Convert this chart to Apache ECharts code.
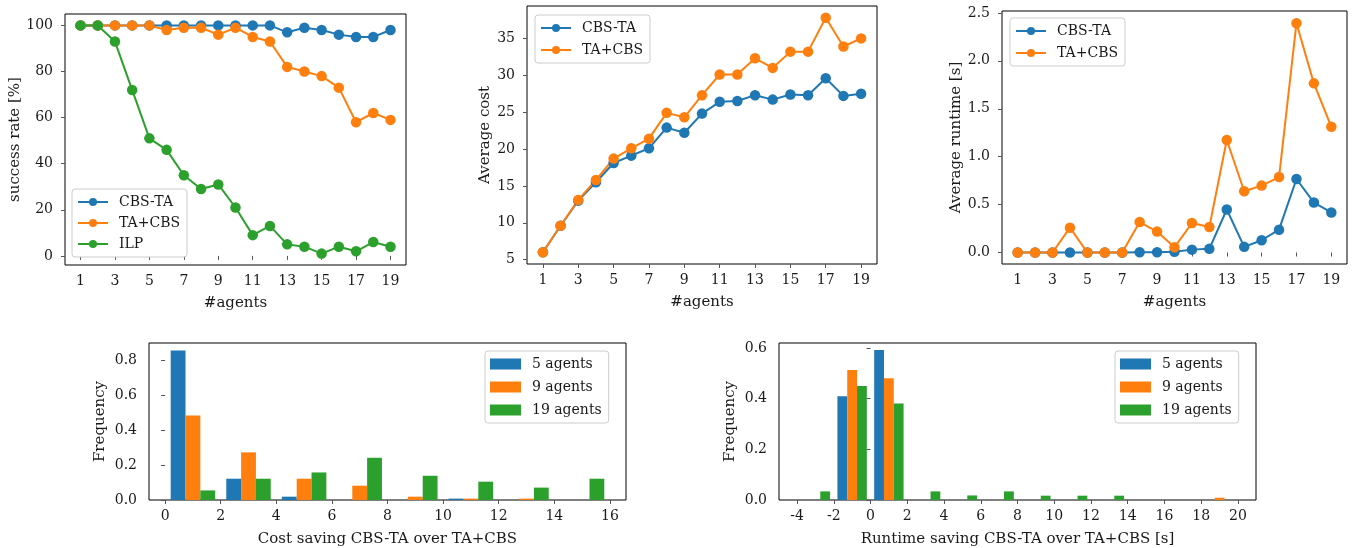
<!DOCTYPE html>
<html>
<head>
<meta charset="utf-8">
<script src="https://cdn.jsdelivr.net/npm/echarts@6/dist/echarts.min.js"></script>
<style>
  html, body { margin: 0; padding: 0; background: #fff; }
  #main { width: 1353px; height: 548px; }
</style>
</head>
<body>
<div id="main"></div>
<script>
// 数据
const agents = [1, 2, 3, 4, 5, 6, 7, 8, 9, 10, 11, 12, 13, 14, 15, 16, 17, 18, 19];
const agentTicks = [1, 3, 5, 7, 9, 11, 13, 15, 17, 19];

// success rate [%]
const successCbsTa = [100, 100, 100, 100, 100, 100, 100, 100, 100, 100, 100, 100, 97, 99, 98, 96, 95, 95, 98];
const successTaCbs = [100, 100, 100, 100, 100, 98, 99, 99, 96, 99, 95, 93, 82, 80, 78, 73, 58, 62, 59];
const successIlp = [100, 100, 93, 72, 51, 46, 35, 29, 31, 21, 9, 13, 5, 4, 1, 4, 2, 6, 4];
const successTicks = [0, 20, 40, 60, 80, 100];

// average cost
const costCbsTa = [6.0, 9.6, 13.0, 15.5, 18.1, 19.1, 20.1, 22.9, 22.2, 24.8, 26.4, 26.5, 27.3, 26.7, 27.4, 27.3, 29.6, 27.2, 27.5];
const costTaCbs = [6.0, 9.6, 13.1, 15.8, 18.7, 20.1, 21.4, 24.9, 24.3, 27.3, 30.1, 30.1, 32.3, 31.0, 33.2, 33.2, 37.8, 33.9, 35.0];
const costTicks = [5, 10, 15, 20, 25, 30, 35];

// average runtime [s]
const runtimeCbsTa = [0, 0, 0, 0, 0, 0, 0, 0.002, 0.003, 0.007, 0.03, 0.038, 0.449, 0.059, 0.128, 0.238, 0.767, 0.521, 0.418];
const runtimeTaCbs = [0, 0, 0, 0.259, 0, 0, 0, 0.318, 0.218, 0.055, 0.307, 0.266, 1.174, 0.639, 0.698, 0.787, 2.393, 1.765, 1.312];
const runtimeTicks = [0, 0.5, 1.0, 1.5, 2.0, 2.5];

// 直方图 - cost saving
const costBins = [0, 2, 4, 6, 8, 10, 12, 14, 16];
const costFreq5 = [0.857, 0.122, 0.019, 0, 0, 0.008, 0, 0];
const costFreq9 = [0.485, 0.273, 0.122, 0.082, 0.019, 0.008, 0.008, 0];
const costFreq19 = [0.055, 0.122, 0.158, 0.242, 0.139, 0.105, 0.071, 0.122];
const costXTicks = [0, 2, 4, 6, 8, 10, 12, 14, 16];
const costYTicks = [0, 0.2, 0.4, 0.6, 0.8];

// 直方图 - runtime saving
const rtBins = [-4, -2, 0, 2, 4, 6, 8, 10, 12, 14, 16, 18, 20];
const rtFreq5 = [0, 0.41, 0.592, 0, 0, 0, 0, 0, 0, 0, 0, 0];
const rtFreq9 = [0, 0.513, 0.481, 0, 0, 0, 0, 0, 0, 0, 0, 0.009];
const rtFreq19 = [0.034, 0.45, 0.381, 0.034, 0.018, 0.034, 0.017, 0.017, 0.017, 0, 0, 0];
const rtXTicks = [-4, -2, 0, 2, 4, 6, 8, 10, 12, 14, 16, 18, 20];
const rtYTicks = [0, 0.2, 0.4, 0.6];

const BLUE = '#1f77b4', ORANGE = '#ff7f0e', GREEN = '#2ca02c';
const FONT = 'DejaVu Serif';
const TXT = '#1a1a1a';

// 组合 [x, y]
function pairs(xs, ys) {
    return xs.map((x, i) => [x, ys[i]]);
}

// 直方图柱子: 每个 bin 里三组并排, 占 bin 宽的 80%
function histData(edges, freq, k, n) {
    let out = [];
    for (let i = 0; i < freq.length; i++) {
        let w = edges[i + 1] - edges[i];
        let sub = 0.8 * w / n;
        let x0 = edges[i] + 0.1 * w + k * sub;
        out.push([x0, x0 + sub, freq[i]]);
    }
    return out;
}

function renderHist(params, api) {
    let p0 = api.coord([api.value(0), api.value(2)]);
    let p1 = api.coord([api.value(1), 0]);
    return {
        type: 'rect',
        shape: { x: p0[0], y: p0[1], width: p1[0] - p0[0], height: p1[1] - p0[1] },
        style: { fill: api.visual('color') }
    };
}

function xAxis(grid, min, max, ticks, name, gap, fmt) {
    return {
        type: 'value', gridIndex: grid, min: min, max: max,
        name: name, nameLocation: 'middle', nameGap: gap,
        nameTextStyle: { fontFamily: FONT, fontSize: 15, color: TXT },
        axisLine: { show: false },
        axisTick: { show: true, length: 4, customValues: ticks },
        axisLabel: { customValues: ticks, margin: 9, fontFamily: FONT, fontSize: 14, color: TXT,
                     formatter: fmt || (v => String(v)) },
        splitLine: { show: false }
    };
}

function yAxis(grid, min, max, ticks, name, gap, fmt) {
    return {
        type: 'value', gridIndex: grid, min: min, max: max,
        name: name, nameLocation: 'middle', nameGap: gap, nameRotate: 90,
        nameTextStyle: { fontFamily: FONT, fontSize: 15, color: TXT },
        axisLine: { show: false },
        axisTick: { show: true, length: 4, customValues: ticks },
        axisLabel: { customValues: ticks, margin: 12, fontFamily: FONT, fontSize: 14, color: TXT,
                     formatter: fmt || (v => String(v)) },
        splitLine: { show: false }
    };
}

function lineSeries(name, xi, data, color) {
    return {
        name: name, type: 'line', xAxisIndex: xi, yAxisIndex: xi,
        data: data, symbol: 'circle', symbolSize: 10.5, showSymbol: true,
        itemStyle: { color: color }, lineStyle: { color: color, width: 2 },
        animation: false
    };
}

function histSeries(name, xi, data, color) {
    return {
        name: name, type: 'custom', xAxisIndex: xi, yAxisIndex: xi,
        renderItem: renderHist, data: data,
        encode: { x: [0, 1], y: 2 },
        itemStyle: { color: color }, animation: false
    };
}

function legend(left, top, names, rect, gap) {
    return {
        left: left, top: top, orient: 'vertical',
        data: names.map(n => rect ? { name: n, icon: 'rect' } : { name: n }),
        itemWidth: rect ? 31 : 30, itemHeight: rect ? 11 : 10, itemGap: gap,
        padding: [5, 7, 5, 5],
        borderColor: '#cccccc', borderWidth: 1, borderRadius: 3,
        backgroundColor: 'rgba(255,255,255,0.8)',
        selectedMode: false,
        textStyle: { fontFamily: FONT, fontSize: 14, color: TXT, lineHeight: 16, padding: [0, 0, 0, 6] }
    };
}

const fmt1 = v => v.toFixed(1);
const gridStyle = { show: true, borderColor: '#000', borderWidth: 1, backgroundColor: 'transparent' };

let chart = echarts.init(document.getElementById('main'));
let option = {
    animation: false,
    grid: [
        Object.assign({ left: 65, top: 14, width: 341, height: 251 }, gridStyle),
        Object.assign({ left: 527, top: 6, width: 350, height: 258 }, gridStyle),
        Object.assign({ left: 1002, top: 11, width: 345, height: 253 }, gridStyle),
        Object.assign({ left: 149, top: 343, width: 477, height: 157 }, gridStyle),
        Object.assign({ left: 779, top: 343, width: 477, height: 157 }, gridStyle)
    ],
    xAxis: [
        xAxis(0, 0.1, 19.9, agentTicks, '#agents', 31),
        xAxis(1, 0.1, 19.9, agentTicks, '#agents', 31),
        xAxis(2, 0.1, 19.9, agentTicks, '#agents', 31),
        xAxis(3, -0.58, 16.58, costXTicks, 'Cost saving CBS-TA over TA+CBS', 32),
        xAxis(4, -4.98, 20.98, rtXTicks, 'Runtime saving CBS-TA over TA+CBS [s]', 32)
    ],
    yAxis: [
        yAxis(0, -3.95, 104.95, successTicks, 'success rate [%]', 42),
        yAxis(1, 4.41, 39.39, costTicks, 'Average cost', 34),
        yAxis(2, -0.12, 2.52, runtimeTicks, 'Average runtime [s]', 38, fmt1),
        yAxis(3, 0, 0.9, costYTicks, 'Frequency', 41, fmt1),
        yAxis(4, 0, 0.62, rtYTicks, 'Frequency', 41, fmt1)
    ],
    legend: [
        legend(72, 189, ['CBS-TA', 'TA+CBS', 'ILP'], false, 5),
        legend(535, 15, ['CBS-TA', 'TA+CBS'], false, 6),
        legend(1010, 18, ['CBS-TA', 'TA+CBS'], false, 6),
        legend(485, 351, ['5 agents', '9 agents', '19 agents'], true, 7),
        legend(1115, 351, ['5 agents', '9 agents', '19 agents'], true, 7)
    ],
    series: [
        lineSeries('CBS-TA', 0, pairs(agents, successCbsTa), BLUE),
        lineSeries('TA+CBS', 0, pairs(agents, successTaCbs), ORANGE),
        lineSeries('ILP', 0, pairs(agents, successIlp), GREEN),

        lineSeries('CBS-TA', 1, pairs(agents, costCbsTa), BLUE),
        lineSeries('TA+CBS', 1, pairs(agents, costTaCbs), ORANGE),

        lineSeries('CBS-TA', 2, pairs(agents, runtimeCbsTa), BLUE),
        lineSeries('TA+CBS', 2, pairs(agents, runtimeTaCbs), ORANGE),

        histSeries('5 agents', 3, histData(costBins, costFreq5, 0, 3), BLUE),
        histSeries('9 agents', 3, histData(costBins, costFreq9, 1, 3), ORANGE),
        histSeries('19 agents', 3, histData(costBins, costFreq19, 2, 3), GREEN),

        histSeries('5 agents', 4, histData(rtBins, rtFreq5, 0, 3), BLUE),
        histSeries('9 agents', 4, histData(rtBins, rtFreq9, 1, 3), ORANGE),
        histSeries('19 agents', 4, histData(rtBins, rtFreq19, 2, 3), GREEN)
    ]
};
chart.setOption(option);
</script>
</body>
</html>
